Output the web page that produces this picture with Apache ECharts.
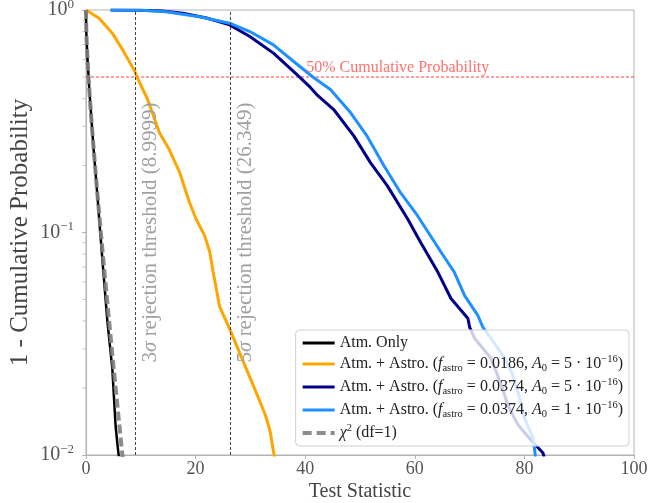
<!DOCTYPE html>
<html><head><meta charset="utf-8">
<script src="https://cdn.jsdelivr.net/npm/echarts@6/dist/echarts.min.js"></script>
<style>html,body{margin:0;padding:0;background:#fff}#c{width:671px;height:503px}</style>
</head><body><div id="c"></div>
<script>
// ---- data ----
const atmOnly = [[0,1],[0.05,0.8],[0.15,0.7],[0.3,0.59],[0.6,0.44],[1.0,0.32],[1.4,0.235],[2.0,0.155],[2.6,0.1],[3.0,0.075],[3.9,0.04],[4.8,0.0245],[5.4,0.0135],[5.8,0.0108],[6.0,0.0098]];
const astroOrange = [[0,1],[2.4,0.918],[4.8,0.787],[6.7,0.662],[8.9,0.53],[9.3,0.5],[11.25,0.396],[13.4,0.281],[15.2,0.236],[17.1,0.186],[18.9,0.136],[20.1,0.115],[21.65,0.0968],[22.6,0.0815],[23.2,0.0664],[24.4,0.0463],[26.2,0.037],[28.7,0.0263],[30.5,0.0206],[32.7,0.0152],[33.6,0.0128],[34.2,0.0104],[34.4,0.0098]];
const astroNavy = [[4.5,1],[10,0.998],[14,0.99],[17.7,0.966],[22,0.92],[26.2,0.857],[29.9,0.76],[34.2,0.64],[38.5,0.512],[40.9,0.45],[42.1,0.417],[45.2,0.357],[48.9,0.271],[51.9,0.206],[55.0,0.162],[58.7,0.115],[61.1,0.09],[64.2,0.0664],[66.6,0.0505],[69.7,0.0411],[70.0,0.0376],[70.9,0.0335],[73.9,0.0272],[75.8,0.0206],[77.0,0.0167],[78.8,0.0137],[81.3,0.0116],[83.4,0.0102],[83.6,0.0098]];
const astroLight = [[4.5,1],[10,0.998],[14.6,0.982],[20.7,0.933],[26.2,0.872],[29.9,0.8],[34.2,0.697],[37.9,0.587],[41.4,0.5],[44.6,0.439],[48.3,0.345],[51.3,0.271],[54.4,0.199],[57.4,0.151],[60.5,0.119],[64.8,0.0815],[67.2,0.0664],[69.1,0.052],[71.5,0.0424],[72.4,0.0376],[73.9,0.0335],[76.4,0.0272],[77.6,0.0238],[78.8,0.0193],[80.1,0.0145],[81.6,0.0119],[81.9,0.0104],[82.0,0.0098]];
const chi2 = [[0,1],[0.02,0.888],[0.05,0.823],[0.1,0.752],[0.2,0.655],[0.4,0.527],[0.7,0.403],[1,0.317],[1.5,0.221],[2,0.157],[2.5,0.114],[3,0.0833],[3.5,0.0614],[4,0.0455],[4.5,0.0339],[5,0.0253],[5.5,0.019],[6,0.0143],[6.5,0.0108],[6.7,0.0096]];
const thresholds = [8.9999, 26.349];
const thresholdSigma = ['3', '5'];
const halfProb = 0.5;
const halfLabelStart = 40;
const xMin = 0, xMax = 100;
const xTicks = [0, 20, 40, 60, 80, 100];
const yMinorTicks = [0.02,0.03,0.04,0.05,0.06,0.07,0.08,0.09,0.2,0.3,0.4,0.5,0.6,0.7,0.8,0.9];

const FONT = '"Liberation Serif","DejaVu Serif",serif';
const chart = echarts.init(document.getElementById('c'), null, {renderer: 'canvas'});

const LC = '#222';
const legendRich = {
  n: {fontFamily: FONT, fontSize: 16, color: LC, lineHeight: 20},
  i: {fontFamily: FONT, fontSize: 16, color: LC, lineHeight: 20, fontStyle: 'italic'},
  sub: {fontFamily: FONT, fontSize: 10.5, color: LC, lineHeight: 9, verticalAlign: 'bottom'},
  sup: {fontFamily: FONT, fontSize: 10.5, color: LC, lineHeight: 11, verticalAlign: 'top'}
};
const legendText = {
  'Atm. Only': '{n|Atm. Only}',
  'astroA': '{n|Atm. + Astro. (}{i|f}{sub|astro}{n| = 0.0186, }{i|A}{sub|0}{n| = 5 · 10}{sup|−16}{n|)}',
  'astroB': '{n|Atm. + Astro. (}{i|f}{sub|astro}{n| = 0.0374, }{i|A}{sub|0}{n| = 5 · 10}{sup|−16}{n|)}',
  'astroC': '{n|Atm. + Astro. (}{i|f}{sub|astro}{n| = 0.0374, }{i|A}{sub|0}{n| = 1 · 10}{sup|−16}{n|)}',
  'chi2': '{i|χ}{sup|2}{n| (df=1)}'
};

const thrRich = {
  n: {fontFamily: FONT, fontSize: 21, color: '#a0a0a0'},
  i: {fontFamily: FONT, fontSize: 21, color: '#a0a0a0', fontStyle: 'italic'}
};

function lineSeries(name, data, color, width, extra) {
  return Object.assign({
    name: name, type: 'line', data: data, showSymbol: false, symbol: 'none',
    lineStyle: {color: color, width: width}, itemStyle: {color: color},
    clip: true, animation: false, z: 3
  }, extra || {});
}

const option = {
  animation: false,
  backgroundColor: '#fff',
  grid: {left: 86, right: 37, top: 10, bottom: 48, show: true, borderColor: '#b3b3b3', borderWidth: 1,
         containLabel: false, outerBoundsMode: 'none'},
  xAxis: {
    type: 'value', min: xMin, max: xMax, interval: 20,
    name: 'Test Statistic', nameLocation: 'middle', nameGap: 27, nameMoveOverlap: false,
    nameTextStyle: {fontFamily: FONT, fontSize: 20, color: '#444'},
    axisLine: {show: true, lineStyle: {color: '#b3b3b3'}},
    axisTick: {show: true, length: 4, lineStyle: {color: '#b3b3b3'}},
    axisLabel: {fontFamily: FONT, fontSize: 18, color: '#555', margin: 5, formatter: v => xTicks.includes(v) ? String(v) : ''},
    splitLine: {show: false}
  },
  yAxis: {
    type: 'log', logBase: 10, min: 0.01, max: 1,
    name: '1 - Cumulative Probability', nameLocation: 'middle', nameGap: 53, nameMoveOverlap: false,
    nameTextStyle: {fontFamily: FONT, fontSize: 25, color: '#444'},
    axisLine: {show: true, lineStyle: {color: '#b3b3b3'}},
    axisTick: {show: true, length: 4, lineStyle: {color: '#b3b3b3'}},
    axisLabel: {
      margin: 12,
      formatter: v => '{b|10}{s|' + String(Math.round(Math.log10(v))).replace('-', '−') + '}',
      rich: {
        b: {fontFamily: FONT, fontSize: 20, color: '#555', lineHeight: 24},
        s: {fontFamily: FONT, fontSize: 13, color: '#555', lineHeight: 13, verticalAlign: 'top'}
      }
    },
    splitLine: {show: false}, minorTick: {show: false}
  },
  legend: {
    orient: 'vertical', right: 42, bottom: 57,
    data: ['Atm. Only', 'astroA', 'astroB', 'astroC', {name: 'chi2', lineStyle: {width: 4, type: [9, 5]}}],
    itemWidth: 32, itemHeight: 14, itemGap: 3,
    padding: [5, 6, 5, 5],
    itemStyle: {opacity: 0},
    lineStyle: {width: 3},
    backgroundColor: 'rgba(255,255,255,0.8)', borderColor: '#d0d0d0', borderWidth: 1, borderRadius: 4,
    formatter: n => legendText[n],
    textStyle: {rich: legendRich},
    z: 10
  },
  series: [
    {
      name: 'halfLine', type: 'line', silent: true, z: 2, symbol: 'none', showSymbol: false, animation: false,
      data: [[xMin, halfProb], [xMax, halfProb]],
      lineStyle: {color: 'rgba(255,0,0,0.5)', type: [3, 2], width: 1.3}
    },
    {
      name: 'thresholdLines', type: 'line', data: [], silent: true, z: 1,
      markLine: {
        silent: true, symbol: 'none', animation: false,
        lineStyle: {color: '#444', type: [3, 2], width: 1},
        label: {show: true, position: 'insideMiddleBottom', distance: 5, rich: thrRich},
        data: thresholds.map((t, k) => ({
          xAxis: t,
          label: {formatter: '{n|' + thresholdSigma[k] + '}{i|σ}{n| rejection threshold (' + t + ')}'}
        }))
      }
    },
    lineSeries('Atm. Only', atmOnly, '#000000', 2.5),
    lineSeries('astroA', astroOrange, '#FFA500', 3),
    lineSeries('astroB', astroNavy, '#00008B', 3),
    lineSeries('astroC', astroLight, '#1E90FF', 3),
    lineSeries('chi2', chi2, 'rgba(128,128,128,0.9)', 4, {
      lineStyle: {color: 'rgba(128,128,128,0.9)', width: 4, type: [9, 4]}
    }),
    {
      name: 'halfLabel', type: 'line', data: [], silent: true, z: 2,
      markLine: {
        silent: true, symbol: 'none', animation: false,
        lineStyle: {color: 'rgba(0,0,0,0)', width: 0},
        label: {show: true, position: 'insideStartTop', distance: 1, formatter: '50% Cumulative Probability',
                fontFamily: FONT, fontSize: 16, color: '#ff7070'},
        data: [[{coord: [halfLabelStart, halfProb]}, {coord: [xMax, halfProb]}]]
      }
    },
    {
      name: 'minorTicks', type: 'scatter', silent: true, clip: false, animation: false,
      data: yMinorTicks.map(v => [0, v]),
      symbol: 'rect', symbolSize: [3, 1], symbolOffset: [-2, 0],
      itemStyle: {color: '#b3b3b3'}, z: 1
    }
  ]
};
chart.setOption(option);
</script>
</body></html>
